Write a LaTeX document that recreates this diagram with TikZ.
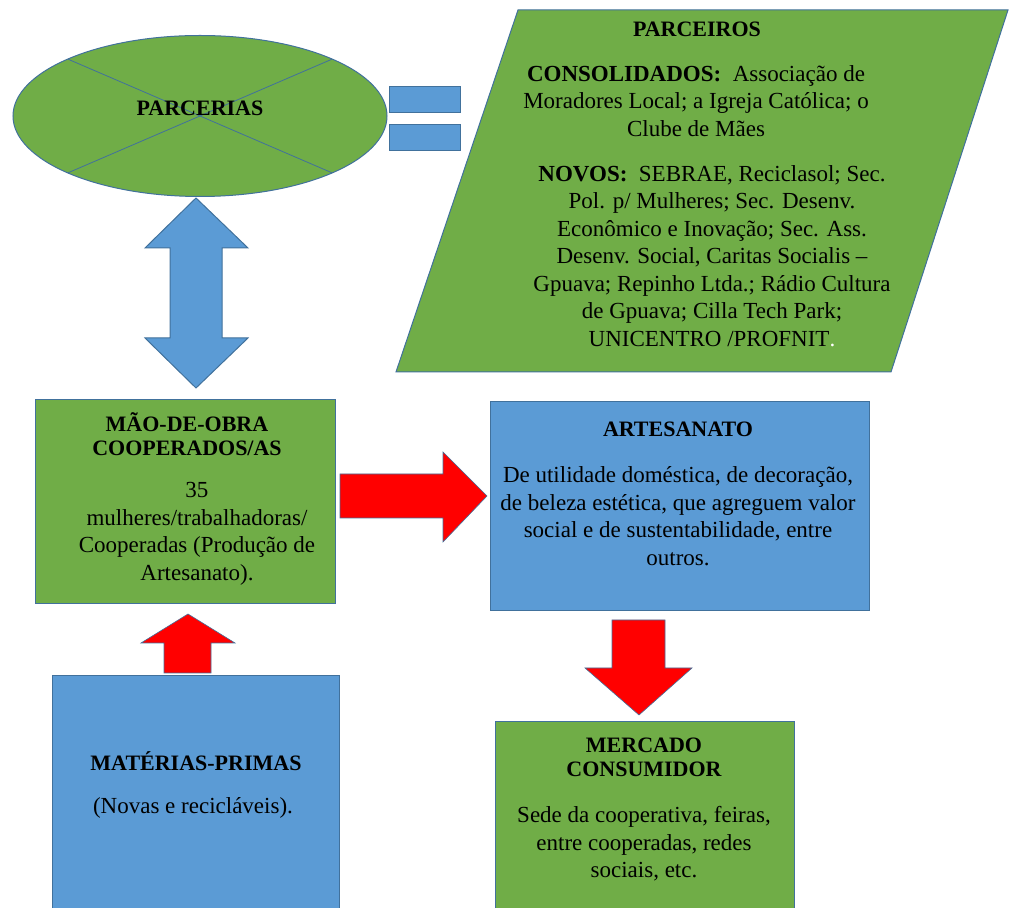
\documentclass[tikz,border=0pt]{standalone}
\usepackage{fontspec}
\setmainfont{Liberation Serif}
\usetikzlibrary{shapes.geometric}
\definecolor{verde}{HTML}{70AD47}
\definecolor{azul}{HTML}{5B9BD5}
\definecolor{contorno}{HTML}{41719C}
\definecolor{vermelho}{HTML}{FF0000}
\tikzset{
	caixa/.style={draw=contorno,line width=0.5pt,outer sep=0pt,inner sep=0pt},
	seta/.style={fill=vermelho,draw=contorno,line width=0.3pt,line join=miter},
	texto/.style={align=center,inner sep=0pt,font=\fontsize{11.5}{13.75}\selectfont},
	titulo/.style={align=center,inner sep=0pt,font=\fontsize{11}{12}\selectfont\bfseries}
}
\begin{document}
\begin{tikzpicture}[x=0.5pt,y=-0.5pt]
	\useasboundingbox (0,0) rectangle (1009,908);
	% parcerias e parceiros
	\node[caixa,ellipse,fill=verde,minimum width=187pt,minimum height=80.5pt] (par) at (200,116){};
	\draw[contorno,line width=0.4pt] (par.north east)--(par.south west) (par.north west)--(par.south east);
	\node[titulo] (parT) at (200,108){PARCERIAS};
	\foreach \y in {87,125}
	{
		\draw[caixa,fill=azul] (389,\y) rectangle (460,\y+26);
	}
	\draw[caixa,fill=verde] (518,10)--(1008,10)--(891,372)--(396,372)--cycle;
	\node[titulo] (parceiros) at (697,29){PARCEIROS};
	\node[texto] (consol) at (696,101){\textbf{CONSOLIDADOS:}\ \ Associação de\\Moradores Local; a Igreja Católica; o\\Clube de Mães};
	\node[texto] (novos) at (712,256){\textbf{NOVOS:}\ \ SEBRAE, Reciclasol; Sec.\\Pol. p/ Mulheres; Sec. Desenv.\\Econômico e Inovação; Sec. Ass.\\Desenv. Social, Caritas Socialis –\\Gpuava; Repinho Ltda.; Rádio Cultura\\de Gpuava; Cilla Tech Park;\\UNICENTRO /PROFNIT\textcolor{white}{.}};
	% caixas
	\draw[caixa,fill=verde] (35,400) rectangle (335,604);
	\node[titulo] (maoT) at (187,434){MÃO-DE-OBRA\\COOPERADOS/AS};
	\node[texto] (mao) at (197,534){35\\mulheres/trabalhadoras/\\Cooperadas (Produção de\\Artesanato).};
	\draw[caixa,fill=azul] (490,402) rectangle (869,611);
	\node[titulo] (artT) at (678,429){ARTESANATO};
	\node[texto] (art) at (678,516){De utilidade doméstica, de decoração,\\de beleza estética, que agreguem valor\\social e de sustentabilidade, entre\\outros.};
	\draw[caixa,fill=azul] (52,676) rectangle (339,912);
	\node[titulo] (matT) at (196,761){MATÉRIAS-PRIMAS};
	\node[texto] (mat) at (193,808){(Novas e recicláveis).};
	\draw[caixa,fill=verde] (495,722) rectangle (794,912);
	\node[titulo] (merT) at (644,757){MERCADO\\CONSUMIDOR};
	\node[texto] (mer) at (644,844){Sede da cooperativa, feiras,\\entre cooperadas, redes\\sociais, etc.};
	% setas
	\draw[caixa,fill=azul] (196,198)--(248,248)--(222,248)--(222,338)--(248,338)--(196,388)--(145,338)--(170,338)--(170,248)--(145,248)--cycle;
	\draw[seta] (340,474)--(443,474)--(443,452)--(487,496)--(443,542)--(443,518)--(340,518)--cycle;
	\draw[seta] (188,614)--(235,643)--(211,643)--(211,673)--(164,673)--(164,643)--(141,643)--cycle;
	\draw[seta] (612,620)--(665,620)--(665,668)--(692,668)--(639,715)--(585,668)--(612,668)--cycle;
\end{tikzpicture}
\end{document}
